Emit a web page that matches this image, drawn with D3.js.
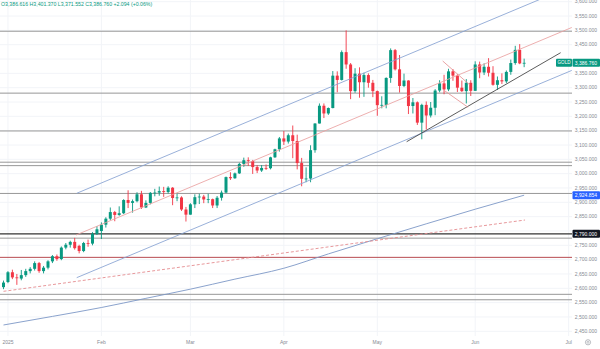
<!DOCTYPE html>
<html>
<head>
<meta charset="utf-8">
<script src="https://cdn.jsdelivr.net/npm/d3@7"></script>
<style>
  html, body { margin: 0; padding: 0; background: #ffffff; }
  svg { display: block; font-family: "Liberation Sans", Arial, sans-serif; }
</style>
</head>
<body>
<svg id="chart" width="600" height="349"></svg>
<script>
// ---- Daily GOLD candles ----
const dates = [
  "2024-12-31",
  "2025-01-02","2025-01-03","2025-01-06","2025-01-07","2025-01-08","2025-01-09","2025-01-10",
  "2025-01-13","2025-01-14","2025-01-15","2025-01-16","2025-01-17","2025-01-21","2025-01-22",
  "2025-01-23","2025-01-24","2025-01-27","2025-01-28","2025-01-29","2025-01-30","2025-01-31",
  "2025-02-03","2025-02-04","2025-02-05","2025-02-06","2025-02-07","2025-02-10","2025-02-11",
  "2025-02-12","2025-02-13","2025-02-14","2025-02-17","2025-02-18","2025-02-19","2025-02-20",
  "2025-02-21","2025-02-24","2025-02-25","2025-02-26","2025-02-27","2025-02-28",
  "2025-03-03","2025-03-04","2025-03-05","2025-03-06","2025-03-07","2025-03-10","2025-03-11",
  "2025-03-12","2025-03-13","2025-03-14","2025-03-17","2025-03-18","2025-03-19","2025-03-20",
  "2025-03-21","2025-03-24","2025-03-25","2025-03-26","2025-03-27","2025-03-28","2025-03-31",
  "2025-04-01","2025-04-02","2025-04-03","2025-04-04","2025-04-07","2025-04-08","2025-04-09",
  "2025-04-10","2025-04-11","2025-04-14","2025-04-15","2025-04-16","2025-04-17","2025-04-21",
  "2025-04-22","2025-04-23","2025-04-24","2025-04-25","2025-04-28","2025-04-29","2025-04-30",
  "2025-05-01","2025-05-02","2025-05-05","2025-05-06","2025-05-07","2025-05-08","2025-05-09",
  "2025-05-12","2025-05-13","2025-05-14","2025-05-15","2025-05-16","2025-05-19","2025-05-20",
  "2025-05-21","2025-05-22","2025-05-23","2025-05-26","2025-05-27","2025-05-28","2025-05-29",
  "2025-05-30",
  "2025-06-02","2025-06-03","2025-06-04","2025-06-05","2025-06-06","2025-06-09","2025-06-10",
  "2025-06-11","2025-06-12","2025-06-13","2025-06-16","2025-06-17"
];
const opens = [
  2604,
  2622,2656,2638,2634,2646,2660,2668,2688,2660,2672,2694,2712,2702,2742,2752,2762,2748,2730,2758,2756,2790,
  2800,2822,2843,2866,2856,2862,2908,2898,2904,2928,2882,2898,2933,2934,2939,2936,2951,2915,2917,2875,
  2857,2893,2918,2920,2910,2911,2889,2916,2934,2988,2984,3001,3034,3047,3044,3023,3011,3020,3019,3057,3085,
  3123,3112,3134,3114,3037,2982,2983,3082,3175,3237,3210,3229,3342,3327,3424,3381,3288,3349,3319,3344,3317,
  3288,3239,3240,3334,3431,3364,3306,3325,3236,3249,3178,3240,3203,3230,3290,3315,3294,3357,3342,3300,3288,3317,
  3289,3381,3353,3373,3352,3310,3326,3322,3355,3386,3432,3386.616
];
const highs = [
  2627,
  2660,2665,2650,2664,2668,2674,2694,2692,2678,2698,2716,2718,2746,2758,2766,2776,2752,2762,2770,2796,2817,
  2830,2848,2882,2870,2886,2911,2942,2910,2935,2940,2907,2936,2947,2955,2954,2956,2953,2930,2921,2884,
  2897,2928,2930,2926,2930,2913,2922,2941,2990,3005,3004,3038,3056,3057,3048,3030,3030,3032,3059,3087,3128,
  3149,3140,3168,3136,3055,3022,3099,3176,3245,3245,3231,3358,3357,3430,3500,3386,3368,3371,3352,3350,3327,
  3290,3270,3336,3437,3435,3414,3349,3326,3264,3252,3244,3252,3250,3295,3326,3345,3366,3365,3347,3325,3330,3326,
  3392,3391,3385,3403,3375,3339,3350,3360,3398,3446,3452,3401.370
];
const lows = [
  2597,
  2618,2632,2612,2628,2640,2652,2662,2654,2652,2666,2688,2696,2698,2736,2742,2735,2722,2726,2745,2750,2786,
  2772,2812,2838,2834,2853,2859,2880,2864,2900,2877,2880,2893,2921,2923,2919,2931,2890,2904,2870,2833,
  2857,2880,2894,2897,2897,2880,2880,2906,2932,2978,2982,2999,3024,3027,2999,3002,3006,3013,3015,3055,3077,
  3100,3105,3054,3015,2956,2970,2970,3073,3175,3194,3205,3228,3284,3325,3366,3260,3282,3265,3268,3300,3267,
  3202,3228,3228,3317,3360,3283,3302,3208,3210,3170,3120,3154,3196,3204,3284,3277,3288,3324,3285,3285,3245,3271,
  3289,3333,3344,3339,3307,3292,3313,3316,3345,3380,3382,3371.552
];
const closes = [
  2620,
  2656,2638,2636,2646,2660,2668,2688,2660,2672,2694,2712,2702,2742,2752,2762,2740,2730,2758,2756,2790,2806,
  2822,2843,2866,2856,2862,2908,2898,2904,2928,2882,2898,2933,2934,2939,2936,2951,2915,2917,2875,2857,
  2893,2918,2920,2910,2911,2889,2916,2934,2988,2984,3001,3034,3047,3044,3023,3011,3020,3019,3057,3085,3123,
  3112,3134,3114,3037,2982,2983,3082,3175,3237,3210,3229,3342,3327,3424,3381,3288,3349,3319,3344,3317,3288,
  3239,3240,3334,3431,3364,3306,3325,3236,3249,3178,3240,3203,3230,3290,3315,3294,3357,3342,3300,3288,3317,3289,
  3381,3353,3373,3352,3310,3326,3322,3355,3386,3432,3384.666,3386.760
];

// 200-day simple moving average, sampled at bar numbers
const smaBars   = [0,    11,   22,   32,   42,   52,   63,   73,   84,   95,   106,  117];
const smaValues = [2472, 2502, 2533, 2565, 2597, 2632, 2670, 2720, 2773, 2825, 2876, 2924.854];

// Horizontal price levels
const greyLevels = [3497, 3281, 3149, 3040, 3028, 2931, 2775, 2579, 2560];
const blackLevel = 2790;
const redLevel = 2708;

// Drawn trend lines: [barFrom, priceFrom, barTo, priceTo]
const channelUpper = [16.45, 2931.5, 127.7, 3654.6];
const channelMid   = [16.3, 2785.9, 127.7, 3510.0];
const channelLower = [16.45, 2637.1, 127.7, 3360.2];
const supportLine  = [90.6, 3111.5, 125.2, 3422.1];
const flagUpper    = [98.7, 3393.0, 104.8, 3309.4];
const flagLower    = [99.2, 3288.4, 104.4, 3231.5];
const dashedLine   = [0, 2589.5, 117.2, 2838.3];

// Axis labels
const priceTicks = d3.range(2450, 3601, 50);
const monthLabels = ["2025", "Feb", "Mar", "Apr", "May", "Jun", "Jul"];
const monthDates  = ["2025-01-02", "2025-02-03", "2025-03-03", "2025-04-01", "2025-05-01", "2025-06-02", "2025-07-01"];

const headerText = "O3,386.616 H3,401.370 L3,371.552 C3,386.760 +2.094 (+0.06%)";

// ---- helpers ----
// bar number of a date; dates past the last bar continue on weekdays
function barOf(ds) {
  const k = dates.indexOf(ds);
  if (k >= 0) return k;
  const last = new Date(dates[dates.length - 1] + "T00:00:00Z");
  const target = new Date(ds + "T00:00:00Z");
  let n = dates.length - 1;
  const d = new Date(last);
  while (d < target) {
    d.setUTCDate(d.getUTCDate() + 1);
    const wd = d.getUTCDay();
    if (wd !== 0 && wd !== 6) n++;
  }
  return n;
}

const W = 600, H = 349;
const plotRight = 572, plotBottom = 336;
const UP = "#089981", DOWN = "#f23645";
const fmt = d3.format(",.3f");

const x = d3.scaleLinear().domain([0, 127]).range([3.5, 3.5 + 127 * 4.45]);
const y = d3.scaleLinear().domain([2450, 3600]).range([331.3, 1.7]);

const lastClose = closes[closes.length - 1];
const smaLast = smaValues[smaValues.length - 1];
const tagValues = [lastClose, smaLast, blackLevel];

const svg = d3.select("#chart");
svg.append("rect").attr("width", W).attr("height", H).attr("fill", "#ffffff");

svg.append("clipPath").attr("id", "plotClip")
  .append("rect").attr("x", 0).attr("y", 0).attr("width", plotRight).attr("height", plotBottom);

const plot = svg.append("g").attr("clip-path", "url(#plotClip)");

// grid
plot.append("g").selectAll("line").data(priceTicks).join("line")
  .attr("x1", 0).attr("x2", plotRight)
  .attr("y1", d => y(d)).attr("y2", d => y(d))
  .attr("stroke", "#f2f4f8").attr("stroke-width", 1);
plot.append("g").selectAll("line").data(monthDates).join("line")
  .attr("x1", d => x(barOf(d))).attr("x2", d => x(barOf(d)))
  .attr("y1", 0).attr("y2", plotBottom)
  .attr("stroke", "#f2f4f8").attr("stroke-width", 1);

// horizontal levels
plot.append("g").selectAll("line").data(greyLevels).join("line")
  .attr("x1", 0).attr("x2", plotRight)
  .attr("y1", d => y(d)).attr("y2", d => y(d))
  .attr("stroke", "#979797").attr("stroke-width", 1);
plot.append("line")
  .attr("x1", 0).attr("x2", plotRight).attr("y1", y(blackLevel)).attr("y2", y(blackLevel))
  .attr("stroke", "#333333").attr("stroke-width", 1.1);
plot.append("line")
  .attr("x1", 0).attr("x2", plotRight).attr("y1", y(redLevel)).attr("y2", y(redLevel))
  .attr("stroke", "#b84a50").attr("stroke-width", 1);

// moving average
const smaLine = d3.line().x((d, i) => x(smaBars[i])).y(d => y(d)).curve(d3.curveMonotoneX);
plot.append("path").datum(smaValues)
  .attr("d", smaLine).attr("fill", "none")
  .attr("stroke", "#7d97c6").attr("stroke-width", 0.9);

// trend lines
function seg(g, s, color, width, dash) {
  const l = g.append("line")
    .attr("x1", x(s[0])).attr("y1", y(s[1]))
    .attr("x2", x(s[2])).attr("y2", y(s[3]))
    .attr("stroke", color).attr("stroke-width", width);
  if (dash) l.attr("stroke-dasharray", dash);
  return l;
}
seg(plot, dashedLine, "#e48c90", 0.9, "3,2");

// candles
const bars = d3.range(dates.length);
const cg = plot.append("g");
cg.selectAll("line.wick").data(bars).join("line")
  .attr("class", "wick")
  .attr("x1", i => x(i)).attr("x2", i => x(i))
  .attr("y1", i => y(highs[i])).attr("y2", i => y(lows[i]))
  .attr("stroke", i => closes[i] >= opens[i] ? UP : DOWN).attr("stroke-width", 0.9);
const bw = 3;
cg.selectAll("rect.body").data(bars).join("rect")
  .attr("class", "body")
  .attr("x", i => x(i) - bw / 2)
  .attr("width", bw)
  .attr("y", i => y(Math.max(opens[i], closes[i])))
  .attr("height", i => Math.max(0.8, Math.abs(y(opens[i]) - y(closes[i]))))
  .attr("fill", i => closes[i] >= opens[i] ? UP : DOWN);

seg(plot, channelUpper, "#87a2d2", 0.85);
seg(plot, channelLower, "#87a2d2", 0.85);
seg(plot, channelMid, "#eaa0a0", 0.85);
seg(plot, supportLine, "#4a4a4a", 0.9);
seg(plot, flagUpper, "#e59494", 0.85);
seg(plot, flagLower, "#e59494", 0.85);

// price axis (labels under a value tag are hidden)
const axisColor = "#868a93";
const visibleTicks = priceTicks.filter(v => tagValues.every(t => Math.abs(y(v) - y(t)) > 6));
svg.append("g").selectAll("text").data(visibleTicks).join("text")
  .attr("x", 597).attr("y", d => y(d))
  .attr("dy", "0.35em")
  .attr("text-anchor", "end")
  .attr("font-size", 5)
  .attr("fill", axisColor)
  .text(d => fmt(d));

// time axis
svg.append("g").selectAll("text").data(monthDates).join("text")
  .attr("x", d => x(barOf(d))).attr("y", 344)
  .attr("text-anchor", "middle")
  .attr("font-size", 5)
  .attr("fill", axisColor)
  .text((d, i) => monthLabels[i]);
svg.append("circle").attr("cx", 588).attr("cy", 342.3).attr("r", 2.6)
  .attr("fill", "none").attr("stroke", "#9a9da5").attr("stroke-width", 0.7);
svg.append("circle").attr("cx", 588).attr("cy", 342.3).attr("r", 1)
  .attr("fill", "none").attr("stroke", "#9a9da5").attr("stroke-width", 0.6);

// value tags on the price axis
function tag(val, color, label) {
  const g = svg.append("g");
  g.append("rect").attr("x", 572.5).attr("y", y(val) - 4).attr("width", 27.5).attr("height", 8)
    .attr("rx", 1).attr("fill", color);
  g.append("text").attr("x", 597).attr("y", y(val)).attr("dy", "0.35em")
    .attr("text-anchor", "end").attr("font-size", 5).attr("fill", "#ffffff")
    .text(label);
}
tag(lastClose, UP, fmt(lastClose));
tag(smaLast, "#2962ff", fmt(smaLast));
tag(blackLevel, "#131722", fmt(blackLevel));

// symbol tag
svg.append("rect").attr("x", 556).attr("y", y(lastClose) - 4).attr("width", 16).attr("height", 8)
  .attr("rx", 1).attr("fill", UP);
svg.append("text").attr("x", 564).attr("y", y(lastClose)).attr("dy", "0.35em")
  .attr("text-anchor", "middle").attr("font-size", 4.6).attr("fill", "#ffffff").text("GOLD");

// OHLC header
svg.append("text").attr("x", 1).attr("y", 6).attr("font-size", 5.2).attr("fill", UP).text(headerText);
</script>
</body>
</html>
